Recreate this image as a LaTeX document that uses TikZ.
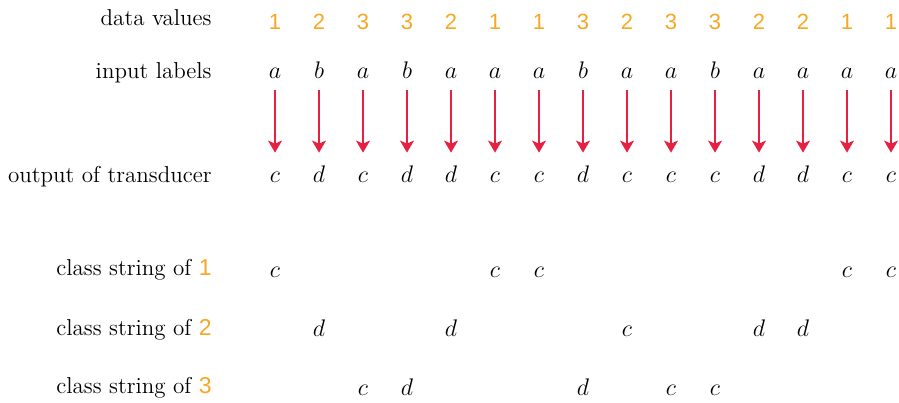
\documentclass[tikz,border=0pt]{standalone}
\usepackage{fontspec}
\newfontfamily\digitfont{Liberation Sans}
\usetikzlibrary{arrows.meta}
\definecolor{dataorange}{RGB}{247,167,36}
\definecolor{flowred}{RGB}{230,32,64}
\tikzset{>={Stealth[length=6pt,width=7pt,inset=1.5pt]},every node/.style={font=\fontsize{11.5}{14}\selectfont},rowlabel/.style={anchor=base east,inner sep=0pt},
sym/.style={anchor=base,inner sep=1pt,text height=8pt,text depth=0pt},datum/.style={anchor=base,text=dataorange,font=\digitfont\fontsize{11}{13}\selectfont},
flow/.style={->,draw=flowred,line width=.8pt,shorten <=5pt,shorten >=5.5pt}}
\newcommand{\cls}[1]{{\digitfont\color{dataorange}#1}}

\begin{document}
\begin{tikzpicture}[x=.5pt,y=-.5pt]
\useasboundingbox (0,0) rectangle (899,402);
\node[rowlabel] (lval) at (212,25) {data values};\node[rowlabel] (lin) at (212,78) {input labels};\node[rowlabel] (lout) at (212,182) {output of transducer};
\node[rowlabel] (lcls1) at (212,275) {class string of \cls{1}};\node[rowlabel] (lcls2) at (212,335) {class string of \cls{2}};\node[rowlabel] (lcls3) at (212,393) {class string of \cls{3}};
\foreach \v/\i/\o [count=\k] in {1/a/c,2/b/d,3/a/c,3/b/d,2/a/d,1/a/c,1/a/c,3/b/d,2/a/c,3/a/c,3/b/c,2/a/d,2/a/d,1/a/c,1/a/c}{
\node[datum] (v\k) at ({231+44*\k},29) {\v};\node[sym] (i\k) at ({231+44*\k},78) {$\i$};\node[sym] (o\k) at ({231+44*\k},182) {$\o$};
\draw[flow] (i\k) -- (o\k);
\node[sym] (s\k) at ({231+44*\k},{218+59*\v}) {$\o$};}
\end{tikzpicture}
\end{document}
